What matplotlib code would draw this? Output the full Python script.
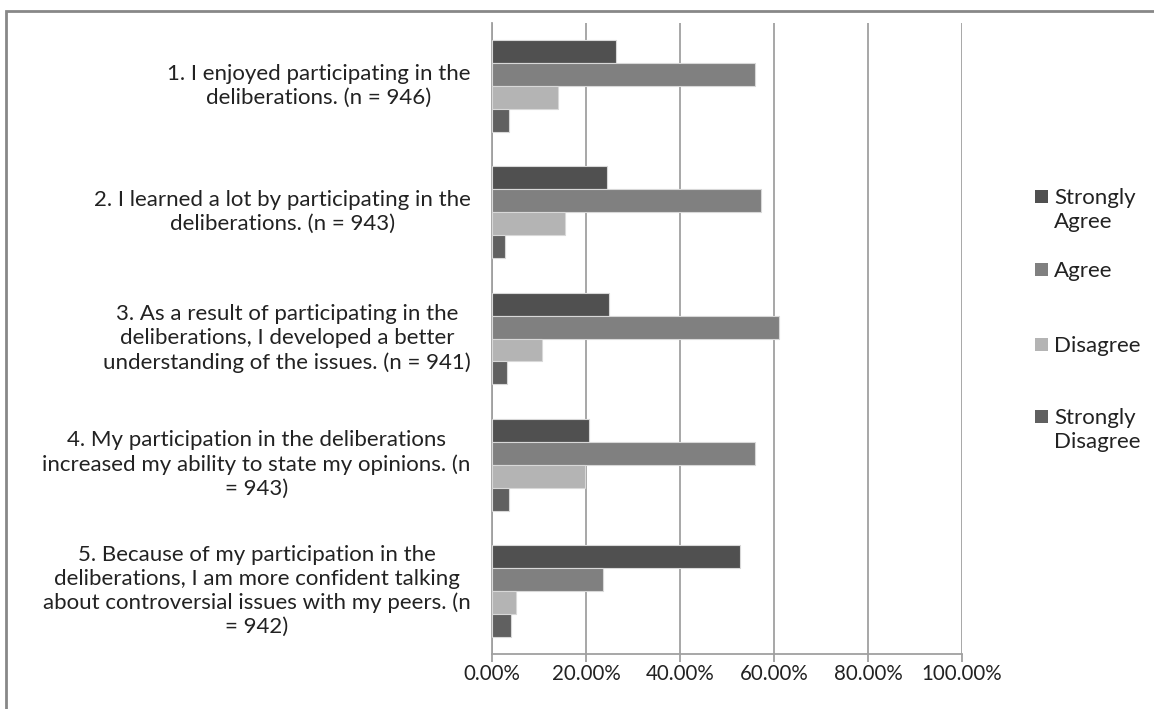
import matplotlib.pyplot as plt
import numpy as np
from matplotlib.patches import Rectangle
from matplotlib.ticker import FuncFormatter

plt.rcParams['font.family'] = ['Lato', 'DejaVu Sans']

# survey items
questions = [
    "1. I enjoyed participating in the\ndeliberations. (n = 946)",
    "2. I learned a lot by participating in the\ndeliberations. (n = 943)",
    "3. As a result of participating in the\ndeliberations, I developed a better\nunderstanding of the issues. (n = 941)",
    "4. My participation in the deliberations\nincreased my ability to state my opinions. (n\n= 943)",
    "5. Because of my participation in the\ndeliberations, I am more confident talking\nabout controversial issues with my peers. (n\n= 942)",
]
responses = ["Strongly\nAgree", "Agree", "Disagree", "Strongly\nDisagree"]

# share of respondents per response, one list per item
strongly_agree = [0.264, 0.245, 0.249, 0.207, 0.528]
agree = [0.560, 0.572, 0.610, 0.560, 0.236]
disagree = [0.140, 0.155, 0.106, 0.198, 0.051]
strongly_disagree = [0.036, 0.028, 0.032, 0.036, 0.040]

colors = ["#505050", "#808080", "#b4b4b4", "#606060"]
series = [strongly_agree, agree, disagree, strongly_disagree]

fig = plt.figure(figsize=(11.54, 7.09), dpi=100)
ax = fig.add_axes([492 / 1154, 1 - 654 / 709, 470 / 1154, 631 / 709])

y = np.arange(len(questions))
h = 0.182
for k, (vals, col) in enumerate(zip(series, colors)):
    ax.barh(y + (k - 1.5) * h, vals, height=h, color=col,
            edgecolor="#d8d8d8", linewidth=0.8, zorder=3)

ax.set_xlim(0, 1.0)
ax.set_ylim(len(questions) - 0.5, -0.5)
ax.set_xticks(np.arange(0, 1.01, 0.2))
ax.xaxis.set_major_formatter(FuncFormatter(lambda v, p: f"{v * 100:.2f}%"))
ax.grid(axis="x", color="#a0a0a0", linewidth=1.3, zorder=0)
ax.set_yticks([])

for s in ["top", "right"]:
    ax.spines[s].set_visible(False)
for s in ["left", "bottom"]:
    ax.spines[s].set_color("#a0a0a0")
    ax.spines[s].set_linewidth(1.3)
ax.tick_params(axis="x", direction="out", length=6, width=1.3, color="#a0a0a0",
               labelsize=14.8, labelcolor="#222222", pad=1)

# category labels to the left of the bars
for yi, q in zip(y, questions):
    ax.text(-0.045, yi, q, ha="right", va="center", multialignment="center",
            fontsize=16, color="#222222", linespacing=1.25,
            transform=ax.get_yaxis_transform())

# legend on the right
legend_y = [197, 270, 345, 417]
for ly, lab, col in zip(legend_y, responses, colors):
    fig.add_artist(Rectangle((1035 / 1154, 1 - (ly + 6) / 709), 13 / 1154, 13 / 709,
                             transform=fig.transFigure, facecolor=col, edgecolor="none"))
    fig.text(1054 / 1154, 1 - (ly - 9) / 709, lab, ha="left", va="top",
             fontsize=16, color="#222222", linespacing=1.25)

# chart frame
fig.add_artist(Rectangle((6 / 1154, -0.05), 1.2, 1 - 10.5 / 709 + 0.05,
                         transform=fig.transFigure, fill=False,
                         edgecolor="#888888", linewidth=2))

fig.savefig("out.png", dpi=100)
